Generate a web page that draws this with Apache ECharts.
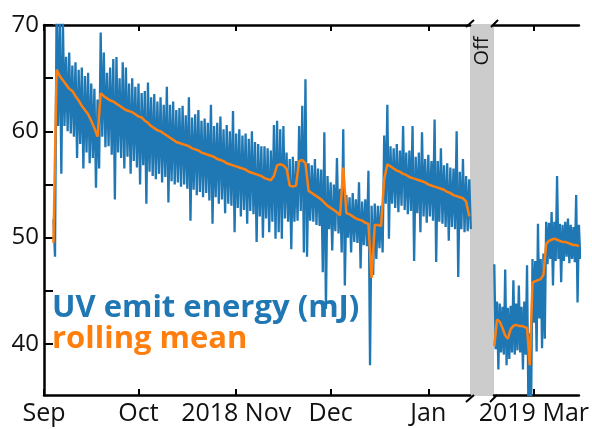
<!DOCTYPE html>
<html>
<head>
<meta charset="utf-8">
<script src="https://cdn.jsdelivr.net/npm/echarts@6/dist/echarts.min.js"></script>
<style>
  html, body { margin: 0; padding: 0; background: #fff; }
  #chart { width: 592px; height: 429px; }
</style>
</head>
<body>
<div id="chart"></div>
<script>
// x is counted in days from 2018-09-01
var tickDaysLeft = [0, 30, 61, 91, 122]
var tickNamesLeft = ['Sep', 'Oct', '2018 Nov', 'Dec', 'Jan']
var tickDaysRight = [181]
var tickNamesRight = ['2019 Mar']
var yTicks = [40, 45, 50, 55, 60, 65, 70]
var yLabels = [40, 50, 60, 70]

// before the break: daily high / low of the energy and the rolling mean, from day 3
var startLeft = 3
var energyHighLeft = [
  51.7, 72, 71, 70.5, 67, 67.4, 66.2, 66.5, 65.8, 66,
  65.2, 65.5, 64.5, 64, 63, 69.3, 67.4, 65.5, 66, 66.8,
  67, 65, 66.5, 66, 64.5, 65, 64.2, 64.5, 63.6, 63.8,
  64.6, 63.2, 63.5, 62.8, 63.2, 62.5, 64.2, 62.5, 62.8, 62,
  62.2, 62.4, 61.5, 63.2, 61.3, 61.6, 62, 61, 61.2, 60.8,
  62.5, 60.5, 60.8, 61.4, 60.2, 60.6, 60, 61.9, 59.8, 60.2,
  59.6, 59.8, 59.3, 60, 59, 58.8, 58.6, 58.6, 58.4, 58.2,
  60.6, 61, 60.2, 60.5, 58, 57.4, 57.6, 57.2, 60.5, 62.4,
  64.9, 57, 56.8, 57.4, 56.5, 56.4, 59.9, 55.8, 55.2, 55,
  57.5, 54.6, 60.2, 54, 53.8, 54.2, 53.6, 55.2, 53.4, 53.6,
  56.3, 53, 53.2, 53, 53, 59.6, 62.5, 58.6, 58.4, 58.8,
  58.2, 60.5, 58, 58.2, 60.5, 57.6, 58, 59.9, 57.4, 57.8,
  57.2, 61.1, 57.2, 58.4, 56.8, 57, 56.6, 56.5, 60, 56.2,
  57.4, 55.8, 55.5
]
var energyLowLeft = [
  48.2, 60.5, 56, 60.5, 60, 59.8, 59.5, 57.5, 58.8, 56.5,
  58, 57, 57.5, 54.7, 56.5, 59.5, 58.5, 58.6, 57.8, 53.6,
  58, 57.5, 56.5, 57.6, 56, 57.2, 56.6, 55, 56.8, 53.2,
  56.2, 55.8, 55.5, 56, 55.2, 55.7, 53.3, 55.3, 55, 55.2,
  54.8, 55, 54.6, 51.6, 54.5, 54, 54.3, 53.8, 54.2, 53.5,
  51.3, 53.8, 53.2, 53.6, 52.3, 53.2, 53, 50.5, 52.8, 52,
  52.6, 51.3, 52.5, 52.2, 49.6, 52, 50, 51.8, 50.5, 51.5,
  49.9, 50.5, 49.9, 51.8, 51.5, 48.9, 51.5, 51.6, 52.5, 48.6,
  48.2, 51.6, 51.5, 51.2, 51.1, 46.75, 43.3, 50.8, 48.8, 50.6,
  50.4, 48.6, 45.5, 50, 48.6, 49.6, 49.5, 47.1, 49.3, 49.2,
  38, 46.5, 48, 49, 48.6, 53.2, 49.9, 53.2, 52.8, 52.4,
  53, 52.6, 52.2, 52.5, 47.8, 52.3, 50.5, 52, 51.4, 52,
  51.6, 47.7, 51.5, 51.3, 51, 49.7, 51, 50.8, 46.3, 50.8,
  50.5, 50.6, 50.8
]
var meanLeft = [
  49.5, 65.8, 65.2, 64.8, 64.4, 64.0, 63.8, 63.3, 62.9, 62.4,
  62.0, 61.6, 61.0, 60.3, 59.5, 63.6, 63.3, 63.1, 62.9, 62.8,
  62.6, 62.4, 62.2, 62.0, 61.9, 61.8, 61.6, 61.4, 61.3, 61.0,
  60.8, 60.5, 60.3, 60.1, 60.0, 59.8, 59.6, 59.4, 59.2, 59.0,
  58.9, 58.8, 58.7, 58.6, 58.4, 58.3, 58.2, 58.0, 57.9, 57.8,
  57.7, 57.6, 57.4, 57.3, 57.2, 57.0, 56.9, 56.8, 56.7, 56.6,
  56.5, 56.4, 56.2, 56.1, 56.0, 55.9, 55.8, 55.6, 55.5, 55.4,
  55.8, 56.8, 56.9, 56.8, 56.5, 54.9, 54.8, 54.9, 57.2, 57.3,
  57.0, 54.4, 54.2, 54.0, 53.8, 53.6, 53.3, 53.0, 52.8, 52.6,
  52.4, 52.1, 56.6, 52.3, 52.2, 52.0, 51.8, 51.7, 51.6, 51.4,
  51.3, 46.2, 51.2, 51.2, 51.1, 55.5, 56.9, 56.7, 56.5, 56.3,
  56.2, 56.0, 55.9, 55.7, 55.6, 55.5, 55.4, 55.3, 55.2, 55.0,
  54.9, 54.8, 54.7, 54.6, 54.5, 54.3, 54.2, 54.0, 53.9, 53.8,
  53.7, 53.4, 52.0
]

// after the break (Feb 2019 on), from day 166.5
var startRight = 166.5
var energyHighRight = [
  47.5, 44, 43.8, 43.5, 47, 43.4, 43.6, 46, 43.8, 45.5,
  43.5, 44, 47.4, 41, 48, 47.8, 51.3, 48, 48.5, 51.5,
  51.4, 52.4, 51.5, 55.8, 51.3, 51.2, 51.5, 51.8, 51.2, 51,
  54, 51.2
]
var energyLowRight = [
  39.5, 37.6, 39.2, 39, 38, 38.6, 39.2, 39, 39.4, 39.2,
  37.6, 39, 34, 34.5, 42, 39.3, 42.4, 39.6, 40.5, 47.5,
  48, 45.5, 47.8, 48, 45.8, 47.8, 48.2, 47.6, 48, 47.7,
  43.9, 48
]
var meanRight = [
  39.8, 42.3, 42.1, 41.5, 40.8, 40.5, 41.4, 41.7, 41.8, 41.7,
  41.7, 41.6, 41.5, 38.0, 45.8, 45.9, 46.0, 46.1, 46.5, 49.4,
  49.7, 49.8, 49.9, 49.8, 49.7, 49.6, 49.6, 49.5, 49.4, 49.3,
  49.3, 49.2
]

var BLUE = '#1f77b4'
var ORANGE = '#ff7f0e'
var INK = '#111111'
var FONT = 'Open Sans'

// layout of the two panels (px); both use the same days-per-pixel scale
var TOP = 25, BOTTOM_Y = 395
var L0 = 44, R0 = 470, L1 = 494
var PX_PER_DAY = 3.15

// high then low for each day, half a day apart
function zigzag(start, high, low) {
  var out = []
  var n = Math.min(high.length, low.length)
  for (var i = 0; i < n; i++) {
    out.push([start + i, high[i]])
    out.push([start + i + 0.5, low[i]])
  }
  return out
}
function daily(start, vals) {
  return vals.map(function (v, i) { return [start + i, v] })
}

function bottomAxis(grid, min, max, days, names) {
  return {
    gridIndex: grid, type: 'value', position: 'bottom', min: min, max: max,
    axisLine: { show: true, onZero: false, lineStyle: { color: '#000', width: 2.5 } },
    axisTick: { show: true, inside: true, length: 6, customValues: days, lineStyle: { color: '#000', width: 2 } },
    axisLabel: {
      show: true, customValues: days, margin: 6, color: INK, fontSize: 25, fontFamily: FONT,
      formatter: function (v) { return names[days.indexOf(v)] }
    },
    splitLine: { show: false }
  }
}
function topAxis(grid, min, max, days) {
  return {
    gridIndex: grid, type: 'value', position: 'top', min: min, max: max,
    axisLine: { show: true, onZero: false, lineStyle: { color: '#000', width: 2.5 } },
    axisTick: { show: true, inside: true, length: 6, customValues: days, lineStyle: { color: '#000', width: 2 } },
    axisLabel: { show: false },
    splitLine: { show: false }
  }
}

var maxLeft = (R0 - L0) / PX_PER_DAY
var minRight = tickDaysRight[0] - (540 - L1) / PX_PER_DAY
var maxRight = minRight + (592 - L1) / PX_PER_DAY

var chart = echarts.init(document.getElementById('chart'))

var option = {
  animation: false,
  backgroundColor: '#fff',
  grid: [
    { left: L0, top: TOP, width: R0 - L0, height: BOTTOM_Y - TOP },
    { left: L1, top: TOP, width: 592 - L1, height: BOTTOM_Y - TOP }
  ],
  xAxis: [
    bottomAxis(0, 0, maxLeft, tickDaysLeft, tickNamesLeft),
    topAxis(0, 0, maxLeft, tickDaysLeft),
    bottomAxis(1, minRight, maxRight, tickDaysRight, tickNamesRight),
    topAxis(1, minRight, maxRight, tickDaysRight)
  ],
  yAxis: [
    {
      gridIndex: 0, type: 'value', min: 35.2, max: 70,
      axisLine: { show: true, lineStyle: { color: '#000', width: 2.5 } },
      axisTick: { show: true, inside: true, length: 9, customValues: yTicks, lineStyle: { color: '#000', width: 2 } },
      axisLabel: { customValues: yLabels, margin: 5, color: INK, fontSize: 24, fontFamily: FONT },
      splitLine: { show: false }
    },
    { gridIndex: 1, type: 'value', min: 35.2, max: 70, show: false }
  ],
  legend: {
    orient: 'vertical', left: 42, top: 288,
    itemWidth: 0, itemHeight: 0, itemGap: 0, icon: 'rect',
    selectedMode: false,
    textStyle: { fontSize: 31, fontWeight: 'bold', fontFamily: FONT, lineHeight: 31 },
    data: [
      { name: 'UV emit energy (mJ)', textStyle: { color: BLUE } },
      { name: 'rolling mean', textStyle: { color: ORANGE } }
    ]
  },
  series: [
    {
      name: 'UV emit energy (mJ)', type: 'line', xAxisIndex: 0, yAxisIndex: 0,
      data: zigzag(startLeft, energyHighLeft, energyLowLeft),
      showSymbol: false, symbol: 'none', clip: true, color: BLUE,
      lineStyle: { color: BLUE, width: 2.3 }
    },
    {
      name: 'UV emit energy (mJ)', type: 'line', xAxisIndex: 2, yAxisIndex: 1,
      data: zigzag(startRight, energyHighRight, energyLowRight),
      showSymbol: false, symbol: 'none', clip: true, color: BLUE,
      lineStyle: { color: BLUE, width: 2.3 }
    },
    {
      name: 'rolling mean', type: 'line', xAxisIndex: 0, yAxisIndex: 0,
      data: daily(startLeft, meanLeft),
      showSymbol: false, symbol: 'none', clip: true, color: ORANGE, z: 3,
      lineStyle: { color: ORANGE, width: 2.5 }
    },
    {
      name: 'rolling mean', type: 'line', xAxisIndex: 2, yAxisIndex: 1,
      data: daily(startRight, meanRight),
      showSymbol: false, symbol: 'none', clip: true, color: ORANGE, z: 3,
      lineStyle: { color: ORANGE, width: 2.5 }
    }
  ],
  graphic: [
    // the "Off" gap between the two panels
    { type: 'rect', z: 0, shape: { x: R0, y: TOP - 1, width: L1 - R0, height: BOTTOM_Y - TOP + 2 }, style: { fill: '#cccccc' } },
    {
      type: 'text', x: (R0 + L1) / 2, y: 51, rotation: Math.PI / 2,
      style: { text: 'Off', fontSize: 20, fontFamily: FONT, fill: INK, align: 'center', verticalAlign: 'middle' }
    },
    // break marks
    { type: 'line', shape: { x1: R0 - 4, y1: TOP + 2, x2: R0 + 4, y2: TOP - 5 }, style: { stroke: '#000', lineWidth: 2 } },
    { type: 'line', shape: { x1: L1 - 3, y1: TOP + 2, x2: L1 + 4, y2: TOP - 5 }, style: { stroke: '#000', lineWidth: 2 } },
    { type: 'line', shape: { x1: R0 - 4, y1: BOTTOM_Y + 7, x2: R0 + 4, y2: BOTTOM_Y }, style: { stroke: '#000', lineWidth: 2 } },
    { type: 'line', shape: { x1: L1 - 4, y1: BOTTOM_Y + 7, x2: L1 + 3, y2: BOTTOM_Y }, style: { stroke: '#000', lineWidth: 2 } }
  ]
}

chart.setOption(option)
</script>
</body>
</html>
